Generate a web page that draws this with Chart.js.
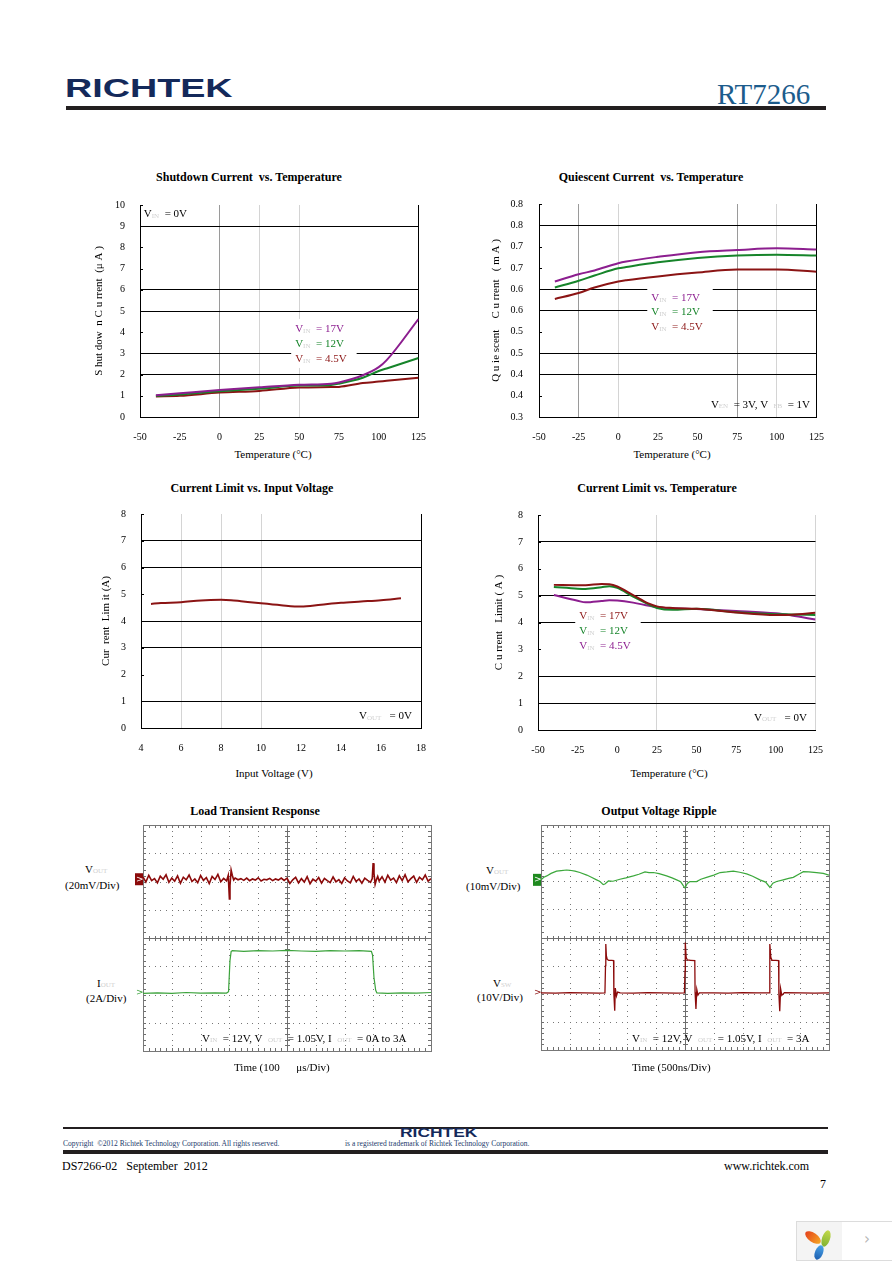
<!DOCTYPE html>
<html>
<head>
<meta charset="utf-8">
<title>RT7266 typical operating characteristics</title>
<script src="https://cdn.jsdelivr.net/npm/chart.js@4.4.1/dist/chart.umd.min.js"></script>
<style>
  html, body { margin: 0; padding: 0; background: #fff; }
  body { position: relative; width: 892px; height: 1263px; overflow: hidden; font-family: "Liberation Serif", "Times New Roman", serif; color: #000; }
  .t { position: absolute; white-space: nowrap; line-height: 14px; font-size: 11px; }
  .title { position: absolute; width: 300px; text-align: center; font-weight: bold; font-size: 12px; line-height: 16px; white-space: nowrap; }
  .xt { position: absolute; width: 200px; text-align: center; font-size: 11px; line-height: 14px; white-space: nowrap; }
  .sb { font-size: 7px; color: #cfcfcf; }
  canvas { position: absolute; }
</style>
</head>
<body>

<!-- header -->
<div class="t" style="left:65px;top:75px;font:bold 26px/26px 'Liberation Sans',sans-serif;color:#14295a;transform:scaleX(1.45);transform-origin:left top;">RICHTEK</div>
<div class="t" style="left:717px;top:80px;font:29px/29px 'Liberation Serif',serif;color:#1c5c8c;">RT7266</div>
<div style="position:absolute;left:66px;top:106px;width:760px;height:4px;background:#231f20;"></div>

<!-- chart titles -->
<div class="title" style="left:99px;top:169px;">Shutdown Current&nbsp; vs. Temperature</div>
<div class="title" style="left:501px;top:169px;">Quiescent Current&nbsp; vs. Temperature</div>
<div class="title" style="left:102px;top:480px;">Current Limit vs. Input Voltage</div>
<div class="title" style="left:507px;top:480px;">Current Limit vs. Temperature</div>
<div class="title" style="left:105px;top:803px;">Load Transient Response</div>
<div class="title" style="left:509px;top:803px;">Output Voltage Ripple</div>

<!-- x axis titles -->
<div class="xt" style="left:173px;top:447px;">Temperature (°C)</div>
<div class="xt" style="left:572px;top:447px;">Temperature (°C)</div>
<div class="xt" style="left:174px;top:766px;">Input Voltage (V)</div>
<div class="xt" style="left:569px;top:766px;">Temperature (°C)</div>

<canvas id="c1" width="350" height="263" style="left:90px;top:184px;"></canvas>
<canvas id="c2" width="354" height="265" style="left:484px;top:182px;"></canvas>
<canvas id="c3" width="350" height="265" style="left:90px;top:493px;"></canvas>
<canvas id="c4" width="353" height="266" style="left:484px;top:494px;"></canvas>
<canvas id="c5" width="305" height="240" style="left:130px;top:815px;"></canvas>
<canvas id="c6" width="305" height="240" style="left:528px;top:815px;"></canvas>

<!-- scope labels -->
<div class="t" style="left:85px;top:862px;">V<span class="sb">OUT</span></div>
<div class="t" style="left:65px;top:878px;">(20mV/Div)</div>
<div class="t" style="left:97px;top:976px;">I<span class="sb">OUT</span></div>
<div class="t" style="left:86px;top:991px;">(2A/Div)</div>
<div class="t" style="left:202px;top:1031px;">V<span class="sb">IN</span> &nbsp;= 12V, V &nbsp;<span class="sb">OUT</span> &nbsp;= 1.05V, I &nbsp;<span class="sb">OUT</span> &nbsp;= 0A to 3A</div>
<div class="t" style="left:234px;top:1060px;">Time (100 &nbsp; &nbsp; &nbsp;μs/Div)</div>

<div class="t" style="left:486px;top:863px;">V<span class="sb">OUT</span></div>
<div class="t" style="left:466px;top:879px;">(10mV/Div)</div>
<div class="t" style="left:493px;top:976px;">V<span class="sb">SW</span></div>
<div class="t" style="left:477px;top:990px;">(10V/Div)</div>
<div class="t" style="left:632px;top:1031px;">V<span class="sb">IN</span> &nbsp;= 12V, V &nbsp;<span class="sb">OUT</span> &nbsp;= 1.05V, I &nbsp;<span class="sb">OUT</span> &nbsp;= 3A</div>
<div class="t" style="left:632px;top:1060px;">Time (500ns/Div)</div>

<!-- footer -->
<div style="position:absolute;left:63px;top:1127px;width:765px;height:2px;background:#231f20;"></div>
<div class="t" style="left:63px;top:1139px;font-size:7.5px;line-height:10px;color:#1b3a6b;">Copyright &nbsp;©2012 Richtek Technology Corporation. All rights reserved.</div>
<div class="t" style="left:345px;top:1139px;font-size:7.5px;line-height:10px;color:#1b3a6b;">is a registered trademark of Richtek Technology Corporation.</div>
<div class="t" style="left:400px;top:1127px;font:bold 12px/12px 'Liberation Sans',sans-serif;color:#14295a;transform:scaleX(1.45);transform-origin:left top;">RICHTEK</div>
<div style="position:absolute;left:63px;top:1150px;width:765px;height:4px;background:#231f20;"></div>
<div class="t" style="left:62px;top:1158px;font-size:12px;line-height:16px;">DS7266-02 &nbsp; September &nbsp;2012</div>
<div class="t" style="left:724px;top:1158px;font-size:12px;line-height:16px;">www.richtek.com</div>
<div class="t" style="left:820px;top:1176px;font-size:12px;line-height:16px;">7</div>

<!-- viewer overlay -->
<div style="position:absolute;left:796px;top:1221px;width:45px;height:38px;background:#f4f4f4;border:1px solid #dcdcdc;"></div>
<div style="position:absolute;left:842px;top:1221px;width:50px;height:38px;background:#fff;border:1px solid #dcdcdc;border-left:none;border-right:none;"></div>
<div style="position:absolute;left:804px;top:1233px;width:18px;height:9px;border-radius:50%;background:linear-gradient(90deg,#e5431d,#f5a623);transform:rotate(35deg);"></div>
<div style="position:absolute;left:822px;top:1230px;width:8px;height:17px;border-radius:50%;background:linear-gradient(#c4d94a,#7fb233);transform:rotate(18deg);"></div>
<div style="position:absolute;left:815px;top:1245px;width:8px;height:15px;border-radius:50%;background:linear-gradient(#4aa3e8,#1c5fb0);transform:rotate(22deg);"></div>
<div class="t" style="left:864px;top:1232px;color:#b5b5b5;font:15px/15px 'DejaVu Sans',sans-serif;">›</div>

<script>
Chart.defaults.font.family = '"Liberation Serif", "Times New Roman", serif';
Chart.defaults.color = '#000';

const PURPLE = '#8c1e8f';
const GREEN = '#16842a';
const MAROON = '#8b1414';

// Shutdown current vs temperature (uA)
const sdTemp = [-40, -25, 0, 25, 50, 70, 75, 90, 100, 105, 125];
const sd17 = [1.03, 1.12, 1.27, 1.40, 1.52, 1.57, 1.63, 1.97, 2.35, 2.68, 4.62];
const sd12 = [1.00, 1.06, 1.21, 1.33, 1.48, 1.51, 1.57, 1.85, 2.17, 2.29, 2.78];
const sd45 = [0.97, 1.00, 1.15, 1.23, 1.39, 1.41, 1.42, 1.60, 1.67, 1.71, 1.85];
const sdYTicks = ['0', '1', '2', '3', '4', '5', '6', '7', '8', '9', '10'];

// Quiescent current vs temperature (mA)
const qTemp = [-40, -25, -15, 0, 5, 25, 50, 75, 100, 125];
const q17 = [0.618, 0.635, 0.644, 0.661, 0.665, 0.676, 0.687, 0.692, 0.696, 0.693];
const q12 = [0.604, 0.620, 0.632, 0.649, 0.652, 0.663, 0.673, 0.679, 0.681, 0.679];
const q45 = [0.577, 0.591, 0.604, 0.618, 0.621, 0.630, 0.639, 0.646, 0.646, 0.641];
const qYTicks = ['0.3', '0.4', '0.4', '0.5', '0.5', '0.6', '0.6', '0.7', '0.7', '0.8', '0.8'];

// Current limit vs input voltage (A)
const clVin = [4.5, 5, 6, 7, 8, 8.5, 9, 10, 11, 12, 13, 14, 15, 16, 17];
const clAmp = [4.64, 4.67, 4.70, 4.77, 4.79, 4.78, 4.74, 4.66, 4.59, 4.54, 4.61, 4.68, 4.73, 4.78, 4.85];
const clYTicks = ['0', '1', '2', '3', '4', '5', '6', '7', '8'];
const vinTicks = ['4', '6', '8', '10', '12', '14', '16', '18'];

// Current limit vs temperature (A)
const ctTemp = [-40, -25, -20, -10, -5, 0, 10, 20, 25, 35, 50, 75, 100, 110, 125];
const ct17 = [5.40, 5.39, 5.39, 5.43, 5.42, 5.34, 5.02, 4.70, 4.60, 4.54, 4.51, 4.37, 4.28, 4.29, 4.36];
const ct12 = [5.32, 5.26, 5.25, 5.31, 5.35, 5.29, 4.96, 4.67, 4.54, 4.47, 4.51, 4.38, 4.31, 4.30, 4.28];
const ct45 = [5.02, 4.81, 4.75, 4.80, 4.83, 4.82, 4.74, 4.62, 4.57, 4.53, 4.50, 4.43, 4.34, 4.26, 4.11];

const tempTicks = ['-50', '-25', '0', '25', '50', '75', '100', '125'];

// Load transient scope traces (time and level in divisions)
const ltTime = [0, 0.1, 0.2, 0.3, 0.4, 0.5, 0.6, 0.7, 0.8, 0.9, 1.0, 1.1, 1.2, 1.3, 1.4, 1.5, 1.6, 1.7, 1.8, 1.9,
  2.0, 2.1, 2.2, 2.3, 2.4, 2.5, 2.6, 2.7, 2.8, 2.9, 2.96, 3.0, 3.02, 3.06, 3.1, 3.15, 3.2,
  3.3, 3.4, 3.5, 3.6, 3.7, 3.8, 3.9, 4.0, 4.1, 4.2, 4.3, 4.4, 4.5, 4.6, 4.7, 4.8, 4.9,
  5.0, 5.1, 5.2, 5.3, 5.4, 5.5, 5.6, 5.7, 5.8, 5.9, 6.0, 6.1, 6.2, 6.3, 6.4, 6.5, 6.6, 6.7, 6.8, 6.9,
  7.0, 7.1, 7.2, 7.3, 7.4, 7.5, 7.6, 7.7, 7.8, 7.9, 7.96, 7.99, 8.02, 8.06, 8.1, 8.15, 8.2,
  8.3, 8.4, 8.5, 8.6, 8.7, 8.8, 8.9, 9.0, 9.1, 9.2, 9.3, 9.4, 9.5, 9.6, 9.7, 9.8, 9.9, 10.0];
const ltVout = [6.16, 5.98, 6.22, 6.03, 6.10, 5.95, 6.19, 6.08, 6.24, 5.97, 6.12, 6.01, 6.20, 5.94, 6.15, 6.06, 6.23, 6.00, 6.09, 5.96,
  6.21, 6.04, 6.14, 5.93, 6.18, 6.07, 6.25, 5.99, 6.11, 6.02, 6.22, 5.38, 5.85, 6.40, 6.22, 6.05, 6.12,
  6.06, 6.10, 6.04, 6.12, 6.03, 6.09, 6.05, 6.13, 6.02, 6.08, 6.06, 6.11, 6.03, 6.09, 6.05, 6.12, 6.04,
  6.12, 5.93, 6.06, 6.15, 5.95, 6.10, 5.98, 6.17, 5.92, 6.08, 6.01, 6.14, 5.94, 6.11, 6.03, 5.96, 6.16, 5.99, 6.07, 5.93,
  6.13, 6.02, 5.95, 6.18, 6.00, 6.09, 5.94, 6.12, 6.04, 5.97, 6.10, 6.65, 6.30, 5.90, 6.05, 6.18, 6.02,
  6.17, 5.98, 6.22, 6.05, 6.12, 5.96, 6.20, 6.03, 6.24, 5.99, 6.10, 6.19, 5.97, 6.15, 6.06, 6.23, 6.01, 6.10];
const ltIoTime = [0, 0.5, 1.0, 1.5, 2.0, 2.5, 2.9, 2.97, 3.02, 3.06, 3.1, 3.5, 4.0, 4.5, 5.0, 5.5, 6.0, 6.5, 7.0, 7.5,
  7.93, 7.97, 8.02, 8.08, 8.12, 8.5, 9.0, 9.5, 10.0];
const ltIout = [2.04, 2.06, 2.04, 2.07, 2.05, 2.06, 2.05, 2.10, 3.20, 3.52, 3.55, 3.53, 3.55, 3.54, 3.56, 3.54, 3.53, 3.55, 3.54, 3.55,
  3.53, 3.40, 2.60, 2.15, 2.06, 2.04, 2.06, 2.05, 2.07];

// Output voltage ripple scope traces (divisions)
const orTime = [0, 0.1, 0.2, 0.35, 0.54, 0.7, 0.89, 1.0, 1.18, 1.35, 1.59, 1.75, 1.93, 2.05, 2.16, 2.22, 2.34, 2.5, 2.74, 2.95,
  3.21, 3.4, 3.61, 3.75, 3.9, 4.1, 4.36, 4.55, 4.71, 4.85, 4.97, 5.0, 5.08, 5.17, 5.4, 5.55, 5.75, 6.0, 6.22, 6.45,
  6.68, 6.9, 7.14, 7.35, 7.6, 7.8, 7.95, 8.05, 8.18, 8.41, 8.6, 8.76, 8.95, 9.11, 9.3, 9.57, 9.8, 10.0];
const orVout = [6.05, 6.14, 6.19, 6.28, 6.36, 6.38, 6.40, 6.39, 6.36, 6.31, 6.22, 6.14, 6.05, 5.99, 5.88, 5.90, 6.01, 6.00, 6.07, 6.12,
  6.19, 6.25, 6.33, 6.31, 6.31, 6.27, 6.19, 6.12, 6.05, 5.98, 5.80, 5.76, 5.92, 5.99, 5.99, 6.07, 6.14, 6.22, 6.31, 6.33,
  6.36, 6.32, 6.26, 6.18, 6.05, 5.97, 5.78, 5.93, 5.99, 6.05, 6.10, 6.14, 6.25, 6.34, 6.33, 6.31, 6.28, 6.22];
const swTime = [0, 0.5, 1.0, 1.5, 2.0, 2.22, 2.24, 2.25, 2.27, 2.30, 2.35, 2.45, 2.52, 2.53, 2.56, 2.58, 2.62, 2.66, 2.75, 3.2,
  3.7, 4.2, 4.7, 4.98, 5.0, 5.01, 5.04, 5.08, 5.2, 5.34, 5.35, 5.38, 5.41, 5.45, 5.5, 6.0, 6.5, 7.0, 7.5, 7.92,
  7.94, 7.95, 7.98, 8.02, 8.15, 8.25, 8.26, 8.29, 8.32, 8.36, 8.45, 9.0, 9.5, 10.0];
const swVolt = [2.03, 2.02, 2.04, 2.03, 2.02, 2.03, 3.00, 3.77, 3.35, 3.22, 3.19, 3.19, 3.18, 2.00, 1.40, 2.20, 1.92, 2.06, 2.03, 2.02,
  2.04, 2.03, 2.02, 2.03, 2.80, 3.82, 3.30, 3.20, 3.19, 3.18, 2.05, 1.46, 2.15, 1.95, 2.03, 2.03, 2.02, 2.04, 2.03, 2.03,
  2.90, 3.77, 3.30, 3.19, 3.19, 3.18, 2.00, 1.38, 2.18, 1.94, 2.04, 2.03, 2.02, 2.03];

const NOTE_FONT = '11px "Liberation Serif"';
const SUB_FONT = '7px "Liberation Serif"';

// in-plot labels, inward y ticks
const notesPlugin = {
  id: 'notes',
  beforeDatasetsDraw(chart, args, opts) {
    const { ctx, chartArea: a, scales: { x, y } } = chart;
    ctx.save();
    ctx.strokeStyle = '#000';
    ctx.lineWidth = 1;
    y.ticks.forEach(t => {
      const py = Math.round(y.getPixelForValue(t.value)) + 0.5;
      ctx.beginPath(); ctx.moveTo(a.left, py); ctx.lineTo(a.left + 3, py); ctx.stroke();
    });
    ctx.textBaseline = 'middle';
    (opts.items || []).forEach(n => {
      const px = x.getPixelForValue(n.x), py = y.getPixelForValue(n.y);
      const gap = n.gap || 15;
      const widths = n.lines.map(line => line.reduce((w, p) => {
        ctx.font = p[1] === 'sub' ? SUB_FONT : NOTE_FONT;
        return w + ctx.measureText(p[0]).width;
      }, 0));
      if (n.box) {
        ctx.fillStyle = '#fff';
        ctx.fillRect(px - 4, py - gap / 2 - 3, Math.max(...widths) + 14, gap * n.lines.length + 4);
      }
      n.lines.forEach((line, i) => {
        let cx = px;
        line.forEach(p => {
          const sub = p[1] === 'sub';
          ctx.font = sub ? SUB_FONT : NOTE_FONT;
          ctx.fillStyle = sub ? '#d0d0d0' : p[1];
          ctx.fillText(p[0], cx, py + i * gap + (sub ? 2 : 0));
          cx += ctx.measureText(p[0]).width;
        });
      });
    });
    ctx.restore();
  }
};

function vinLine(c, v) { return [['V', c], ['IN', 'sub'], ['  = ' + v, c]]; }

function xyChart(id, cfg) {
  return new Chart(document.getElementById(id), {
    type: 'line',
    data: {
      datasets: cfg.series.map(s => ({
        data: s.x.map((v, i) => ({ x: v, y: s.y[i] })),
        borderColor: s.color,
        borderWidth: 2,
        pointRadius: 0,
        cubicInterpolationMode: 'monotone',
        fill: false
      }))
    },
    options: {
      responsive: false,
      animation: false,
      layout: { padding: { top: 10, right: cfg.padRight, left: 0, bottom: 0 } },
      plugins: { legend: { display: false }, tooltip: { enabled: false }, notes: { items: cfg.notes } },
      scales: {
        x: {
          type: 'linear', min: cfg.x.min, max: cfg.x.max,
          ticks: { stepSize: cfg.x.step, padding: 14, autoSkip: false, maxRotation: 0, font: { size: 10 },
                   callback: (v, i) => cfg.x.labels[i] },
          grid: { drawTicks: false, lineWidth: 1, color: c => cfg.x.grid[c.index] || 'rgba(0,0,0,0)' },
          border: { color: '#000', width: 1 },
          afterFit: s => { s.height = 30; }
        },
        y: {
          type: 'linear', min: cfg.y.min, max: cfg.y.max,
          ticks: { stepSize: cfg.y.step, padding: cfg.y.pad, autoSkip: false, font: { size: 10 },
                   callback: (v, i) => cfg.y.labels[i] },
          grid: { drawTicks: false, lineWidth: 1,
                  color: c => cfg.y.black.includes(c.index) ? '#000' : 'rgba(0,0,0,0)' },
          border: { color: '#000', width: 1 },
          title: { display: true, text: cfg.y.title, font: { size: 11 }, padding: { top: cfg.y.titlePad, bottom: 0 } },
          afterFit: s => { s.width = cfg.y.width; }
        }
      }
    },
    plugins: [notesPlugin]
  });
}

const CLEAR = 'rgba(0,0,0,0)';
const LIGHT = '#d4d4d4';
const MID = '#9a9a9a';

xyChart('c1', {
  padRight: 11,
  series: [
    { x: sdTemp, y: sd17, color: PURPLE },
    { x: sdTemp, y: sd12, color: GREEN },
    { x: sdTemp, y: sd45, color: MAROON }
  ],
  x: { min: -50, max: 125, step: 25, labels: tempTicks, grid: [CLEAR, CLEAR, MID, LIGHT, LIGHT, CLEAR, CLEAR, '#000'] },
  y: { min: 0, max: 10, step: 1, labels: sdYTicks, black: [2, 3, 5, 6, 9], pad: 15, width: 50, titlePad: 3,
       title: 'S hut dow  n C u rrent  (μ A )' },
  notes: [
    { x: -47.6, y: 9.55, lines: [[['V', '#000'], ['IN', 'sub'], ['  = 0V', '#000']]] },
    { x: 47.5, y: 4.13, box: true, lines: [vinLine(PURPLE, '17V'), vinLine(GREEN, '12V'), vinLine(MAROON, '4.5V')] }
  ]
});

xyChart('c2', {
  padRight: 10,
  series: [
    { x: qTemp, y: q17, color: PURPLE },
    { x: qTemp, y: q12, color: GREEN },
    { x: qTemp, y: q45, color: MAROON }
  ],
  x: { min: -50, max: 125, step: 25, labels: tempTicks, grid: [CLEAR, MID, LIGHT, CLEAR, CLEAR, MID, LIGHT, '#000'] },
  y: { min: 0.3, max: 0.8, step: 0.05, labels: qYTicks, black: [2, 3, 5, 6, 9], pad: 16, width: 55, titlePad: 6,
       title: 'Q u ie scent    C u rrent   ( m A )' },
  notes: [
    { x: 20.8, y: 0.58, gap: 14.5, box: true, lines: [vinLine(PURPLE, '17V'), vinLine(GREEN, '12V'), vinLine(MAROON, '4.5V')] },
    { x: 58.4, y: 0.329, lines: [[['V', '#000'], ['EN', 'sub'], ['  = 3V, V  ', '#000'], ['FB', 'sub'], ['  = 1V', '#000']]] }
  ]
});

xyChart('c3', {
  padRight: 11,
  series: [ { x: clVin, y: clAmp, color: MAROON } ],
  x: { min: 4, max: 18, step: 2, labels: vinTicks, grid: [CLEAR, LIGHT, LIGHT, LIGHT, CLEAR, CLEAR, CLEAR, '#000'] },
  y: { min: 0, max: 8, step: 1, labels: clYTicks, black: [1, 3, 4, 6, 7], pad: 15, width: 51, titlePad: 10,
       title: 'Cur  rent  Lim it (A)' },
  notes: [
    { x: 14.9, y: 0.46, lines: [[['V', '#000'], ['OUT', 'sub'], ['   = 0V', '#000']]] }
  ]
});

xyChart('c4', {
  padRight: 10,
  series: [
    { x: ctTemp, y: ct17, color: MAROON },
    { x: ctTemp, y: ct12, color: GREEN },
    { x: ctTemp, y: ct45, color: PURPLE }
  ],
  x: { min: -50, max: 125, step: 25, labels: tempTicks, grid: [CLEAR, CLEAR, CLEAR, LIGHT, CLEAR, CLEAR, CLEAR, LIGHT] },
  y: { min: 0, max: 8, step: 1, labels: clYTicks, black: [1, 2, 4, 5, 7], pad: 15, width: 54, titlePad: 9,
       title: 'C u rrent   Limit ( A )' },
  notes: [
    { x: -24, y: 4.25, box: true, lines: [vinLine(MAROON, '17V'), vinLine(GREEN, '12V'), vinLine(PURPLE, '4.5V')] },
    { x: 86.2, y: 0.46, lines: [[['V', '#000'], ['OUT', 'sub'], ['   = 0V', '#000']]] }
  ]
});

// oscilloscope graticule and channel markers
const scopePlugin = {
  id: 'scope',
  beforeDatasetsDraw(chart, args, opts) {
    const { ctx, chartArea: a, scales: { x, y } } = chart;
    const X = v => Math.round(x.getPixelForValue(v));
    const Y = v => Math.round(y.getPixelForValue(v));
    ctx.save();
    ctx.fillStyle = '#777';
    for (let i = 1; i < 10; i++) {
      if (i === 5) continue;
      for (let k = 1; k < 40; k++) ctx.fillRect(X(i), Y(k * 0.2), 1, 1);
    }
    for (let j = 1; j < 8; j++) {
      if (j === 4) continue;
      for (let k = 1; k < 50; k++) ctx.fillRect(X(k * 0.2), Y(j), 1, 1);
    }
    ctx.fillStyle = '#6e6e6e';
    // centre cross with minor ticks
    ctx.fillRect(X(5), a.top, 1, a.bottom - a.top);
    ctx.fillRect(a.left, Y(4), a.right - a.left, 1);
    for (let k = 1; k < 50; k++) {
      ctx.fillRect(X(k * 0.2), Y(4) - 2, 1, 5);
      ctx.fillRect(X(k * 0.2), a.top, 1, 3);
      ctx.fillRect(X(k * 0.2), a.bottom - 3, 1, 3);
    }
    for (let k = 1; k < 40; k++) {
      ctx.fillRect(X(5) - 2, Y(k * 0.2), 5, 1);
      ctx.fillRect(a.left, Y(k * 0.2), 3, 1);
      ctx.fillRect(a.right - 3, Y(k * 0.2), 3, 1);
    }
    ctx.strokeStyle = '#777';
    ctx.lineWidth = 1;
    ctx.strokeRect(Math.round(a.left) + 0.5, Math.round(a.top) + 0.5, Math.round(a.right - a.left), Math.round(a.bottom - a.top));
    // channel reference markers
    ctx.font = '9px "DejaVu Sans"';
    ctx.textBaseline = 'middle';
    (opts.refs || []).forEach(r => {
      const py = y.getPixelForValue(r.v);
      if (r.filled) {
        ctx.fillStyle = r.color;
        ctx.fillRect(a.left - 8, py - 6, 8, 12);
        ctx.fillStyle = '#fff';
        ctx.fillText('>', a.left - 7, py);
      } else {
        ctx.fillStyle = r.color;
        ctx.fillText('>', a.left - 7, py);
      }
    });
    ctx.restore();
  }
};

function scopeChart(id, traces, refs, padBottom) {
  return new Chart(document.getElementById(id), {
    type: 'line',
    data: {
      datasets: traces.map(t => ({
        data: t.x.map((v, i) => ({ x: v, y: t.y[i] })),
        borderColor: t.color, borderWidth: t.width, pointRadius: 0, tension: 0, fill: false
      }))
    },
    options: {
      responsive: false,
      animation: false,
      layout: { padding: { left: 13, top: 10, right: 4, bottom: padBottom } },
      plugins: { legend: { display: false }, tooltip: { enabled: false }, scope: { refs } },
      scales: {
        x: { type: 'linear', min: 0, max: 10, display: false },
        y: { type: 'linear', min: 0, max: 8, display: false }
      }
    },
    plugins: [scopePlugin]
  });
}

scopeChart('c5', [
  { x: ltTime, y: ltVout, color: '#8b0a0a', width: 1.6 },
  { x: ltIoTime, y: ltIout, color: '#3ca33c', width: 1.2 }
], [ { v: 6.08, color: '#8b0a0a', filled: true }, { v: 2.05, color: '#3ca33c', filled: false } ], 4);

scopeChart('c6', [
  { x: orTime, y: orVout, color: '#3ca83c', width: 1.2 },
  { x: swTime, y: swVolt, color: '#8b0a0a', width: 1.3 }
], [ { v: 6.05, color: '#1f8a1f', filled: true }, { v: 2.03, color: '#8b0a0a', filled: false } ], 5);
</script>
</body>
</html>
